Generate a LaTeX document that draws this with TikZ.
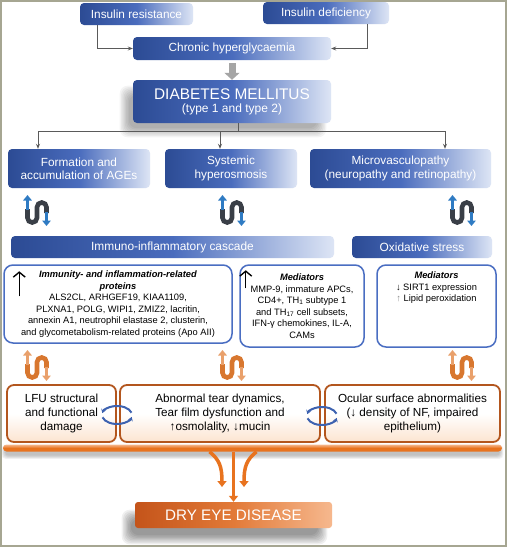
\documentclass[tikz,border=0pt]{standalone}
\usepackage{fontspec}
\setmainfont{Liberation Sans}
\usetikzlibrary{arrows.meta,shadows,calc,backgrounds}

\definecolor{bdark}{HTML}{2C4B94}
\definecolor{bmid}{HTML}{4A6CBD}
\definecolor{blight}{HTML}{DDE5F5}
\definecolor{bborder}{HTML}{4A6EC2}
\definecolor{obrd}{HTML}{B3561E}
\definecolor{oar}{HTML}{E8731F}
\definecolor{odark}{HTML}{C4541A}
\definecolor{omid}{HTML}{E27A38}
\definecolor{olight}{HTML}{F6B88E}
\definecolor{ofill}{HTML}{FCE4D0}
\definecolor{conng}{HTML}{5A5A5A}
\definecolor{agray}{HTML}{A5A5A5}
\definecolor{ugray}{HTML}{3A3F47}
\definecolor{ublue}{HTML}{2F7BC3}
\definecolor{uodark}{HTML}{D8772F}
\definecolor{uolight}{HTML}{E9A06B}
\definecolor{cycblue}{HTML}{3D62B0}
\definecolor{framec}{HTML}{A6A692}

\newcommand{\softshadow}[4]{%
  \foreach \kk in {0,...,7} {
    \fill[black, opacity=#4, rounded corners=8pt]
      ($(#1.south west)+(#2-\kk*1.3+5, #3+\kk*1.3-5)$) rectangle
      ($(#1.north east)+(#2+\kk*1.3-5, #3-\kk*1.3+5)$);
  }}

\tikzset{
  pics/uturn/.style n args={2}{code={
    \draw[line width=4.6pt, #1, rounded corners=4.7pt]
      (-9.5,-1) -- (-9.5,12.5) -- (0,12.5) -- (0,-7.5) -- (9.5,-7.5) -- (9.5,3);
    \draw[line width=3pt, #2, -{Triangle[length=5.5pt,width=8.5pt]}] (-9.5,0) -- (-9.5,-15);
    \draw[line width=3pt, #2, -{Triangle[length=5.5pt,width=8.5pt]}] (9.5,2) -- (9.5,16);
  }},
  pics/cyc/.style={code={
    \draw[line width=2pt, cycblue, -{Stealth[length=4pt,width=5pt]}]
      (-15:15 and 9) arc[start angle=-15, end angle=-168, x radius=15, y radius=9];
    \draw[line width=2pt, cycblue, -{Stealth[length=4pt,width=5pt]}]
      (165:15 and 9) arc[start angle=165, end angle=12, x radius=15, y radius=9];
  }}
}

\begin{document}
\begin{tikzpicture}[x=1pt,y=-1pt,
  bluebox/.style={rounded corners=4pt, left color=bdark, right color=blight,
    middle color=bmid, text=white, inner sep=0pt, align=center},
  bbox/.style={draw=bborder, line width=1.5pt, rounded corners=9pt, fill=white,
    inner sep=0pt, align=center, font=\fontsize{9.3}{11.5}\selectfont},
  obox/.style={draw=obrd, line width=1.8pt, rounded corners=7pt, top color=white,
    bottom color=ofill, middle color=white, inner sep=0pt, align=center,
    font=\fontsize{11.7}{14}\selectfont},
  conn/.style={draw=conng, line width=0.9pt},
  conna/.style={conn, -{Stealth[length=5pt,width=4pt]}},
  oarrow/.style={draw=oar, line width=3.5pt, -{Triangle[length=6pt,width=9pt]}},
  bigarrow/.style={arrows={-Straight Barb[length=5pt,width=12pt]}, line width=1.4pt}
]
\useasboundingbox (0,0) rectangle (507,547);

% top
\node[bluebox, minimum width=113pt, minimum height=22pt, font=\fontsize{11.8}{13}\selectfont]
  (ir) at (136.5,14) {Insulin resistance};
\node[bluebox, minimum width=126pt, minimum height=22pt, font=\fontsize{11.8}{13}\selectfont]
  (id) at (326,13) {Insulin deficiency};
\node[bluebox, minimum width=198pt, minimum height=23pt, font=\fontsize{11.8}{13}\selectfont]
  (ch) at (232,48.5) {Chronic hyperglycaemia};
\node[bluebox, minimum width=198pt, minimum height=43pt]
  (dm) at (232,101.5) {{\fontsize{15.4}{17}\selectfont DIABETES MELLITUS}\\[1pt]
  {\fontsize{12}{14}\selectfont (type 1 and type 2)}};

\draw[conna] ([xshift=18pt]ir.south west) |- (ch.west);
\draw[conna] ([xshift=-22pt]id.south east) |- (ch.east);
\draw[agray, line width=7pt, -{Triangle[length=7pt,width=15pt]}] ([yshift=-3pt]ch.south) -- (dm.north);

% second row
\node[bluebox, minimum width=142pt, minimum height=39pt, font=\fontsize{11.8}{13.3}\selectfont]
  (f1) at (79,168.5) {Formation and\\accumulation of AGEs};
\node[bluebox, minimum width=132pt, minimum height=39pt, font=\fontsize{11.8}{13.3}\selectfont]
  (f2) at (231,168.5) {Systemic\\hyperosmosis};
\node[bluebox, minimum width=181pt, minimum height=39pt, font=\fontsize{11.8}{13.3}\selectfont]
  (f3) at (400.5,168.5) {Microvasculopathy\\(neuropathy and retinopathy)};

\coordinate (j) at (238,131);
\draw[conn] ([xshift=6pt]dm.south) -- (j);
\coordinate (d1) at ([xshift=-41pt]f1.north);
\coordinate (d2) at ([xshift=-11pt]f2.north);
\coordinate (d3) at ([xshift=44.5pt]f3.north);
\draw[conna] (j) -| (d1);
\draw[conna] (j) -| (d3);
\draw[conna] (d2 |- j) -- (d2);

\pic at (37,210) {uturn={ugray}{ublue}};
\pic at (232,210) {uturn={ugray}{ublue}};
\pic at (462,210) {uturn={ugray}{ublue}};

% cascade bars
\node[bluebox, minimum width=323pt, minimum height=22pt, font=\fontsize{11.9}{13}\selectfont]
  (ic) at (172.5,247) {Immuno-inflammatory cascade};
\node[bluebox, minimum width=140pt, minimum height=22pt, font=\fontsize{11.9}{13}\selectfont]
  (os) at (422,247) {Oxidative stress};

% mediator boxes
\node[bbox, minimum width=228pt, minimum height=78pt] (b1) at (118,304)
  {\textbf{\textit{Immunity- and inflammation-related}}\\
   \textbf{\textit{proteins}}\\
   ALS2CL, ARHGEF19, KIAA1109,\\
   PLXNA1, POLG, WIPI1, ZMIZ2, lacritin,\\
   annexin A1, neutrophil elastase 2, clusterin,\\
   and glycometabolism-related proteins (Apo AII)};
\node[bbox, minimum width=124pt, minimum height=82pt] (b2) at (302,306)
  {\textbf{\textit{Mediators}}\\
   MMP-9, immature APCs,\\
   CD4+, TH\textsubscript{1} subtype 1\\
   and TH\textsubscript{17} cell subsets,\\
   IFN-γ chemokines, IL-A,\\
   CAMs};
\node[bbox, minimum width=119pt, minimum height=82pt] (b3) at (436.5,306) {};
\node[anchor=north, inner sep=0pt, align=center, font=\fontsize{9.3}{11.5}\selectfont]
  (b3t) at (436.5,272) {\textbf{\textit{Mediators}}\\
   ↓ SIRT1 expression\\
   {\color{black!45}↑} Lipid peroxidation};

\draw[bigarrow] ([shift={(16,32)}]b1.north west) -- ++(0,-25);
\draw[bigarrow] ([shift={(6.5,24)}]b2.north west) -- ++(0,-18);

\pic at (37,365) {uturn={uodark}{uolight}};
\pic at (232,365) {uturn={uodark}{uolight}};
\pic at (462,365) {uturn={uodark}{uolight}};

% bottom boxes
\node[obox, minimum width=109pt, minimum height=57pt] (l1) at (61.5,413.5)
  {LFU structural\\and functional\\damage};
\node[obox, minimum width=200pt, minimum height=57pt] (l2) at (220,413.5)
  {Abnormal tear dynamics,\\Tear film dysfunction and\\↑osmolality, ↓mucin};
\node[obox, minimum width=175pt, minimum height=57pt] (l3) at (412.5,413.5)
  {Ocular surface abnormalities\\(↓ density of NF, impaired\\epithelium)};

\pic at (117,415) {cyc};
\pic at (322,416) {cyc};

% orange bar
\node[minimum width=499pt, minimum height=7pt, inner sep=0pt, rounded corners=3.5pt,
  top color=olight, bottom color=oar, middle color=oar]
  (bar) at (252.5,448) {};

% dry eye
\node[rounded corners=3pt, left color=odark, right color=olight, middle color=omid,
  text=white, minimum width=197pt, minimum height=26pt, inner sep=0pt,
  font=\fontsize{15.2}{17}\selectfont]
  (dry) at (233.5,515) {DRY EYE DISEASE};

\coordinate (e1) at (222,487);
\coordinate (e2) at (244,487);
\draw[oarrow] ([xshift=-19pt]bar.south) -- (dry.north);
\draw[oarrow] ([xshift=-43pt]bar.south) .. controls ([xshift=-33pt,yshift=-8pt]bar.south)
  and ($(e1)+(0,-20)$) .. (e1);
\draw[oarrow] ([xshift=4pt]bar.south) .. controls ([xshift=-6pt,yshift=-8pt]bar.south)
  and ($(e2)+(0,-20)$) .. (e2);

\begin{scope}[on background layer]
  \fill[white] (0,0) rectangle (507,547);
  \softshadow{dm}{-9}{10}{0.045}
  \softshadow{dry}{-9}{12}{0.06}
  \foreach \kk in {0,...,4} {
    \fill[black, opacity=0.05, rounded corners=4pt]
      ($(bar.south west)+(-\kk*0.8+2, 4+\kk*0.8)$) rectangle ($(bar.north east)+(\kk*0.8-2, 4-\kk*0.8)$);
  }
\end{scope}
\draw[framec, line width=2pt] (1,1) rectangle (506,546);
\end{tikzpicture}
\end{document}
